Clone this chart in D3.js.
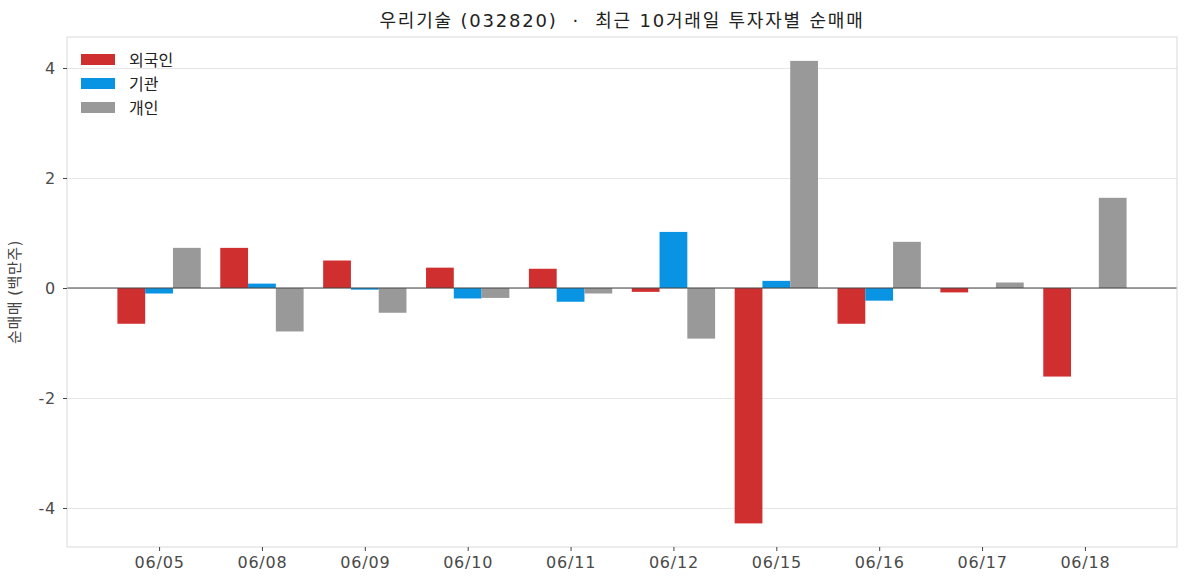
<!DOCTYPE html>
<html>
<head>
<meta charset="utf-8">
<script src="https://cdn.jsdelivr.net/npm/d3@7"></script>
<style>
  body { margin: 0; background: #fff; }
  svg text { font-family: "DejaVu Sans", "Noto Sans CJK KR", sans-serif; }
</style>
</head>
<body>
<svg id="chart" width="1187" height="587"></svg>
<script>
// 날짜 (최근 10거래일)
const dates = ["06/05", "06/08", "06/09", "06/10", "06/11", "06/12", "06/15", "06/16", "06/17", "06/18"];
// 투자자별 순매매 (백만주)
const foreign = [-0.65, 0.73, 0.50, 0.37, 0.35, -0.07, -4.28, -0.65, -0.08, -1.61];
const institution = [-0.10, 0.08, -0.03, -0.19, -0.25, 1.02, 0.13, -0.23, 0.00, 0.00];
const individual = [0.73, -0.79, -0.45, -0.18, -0.10, -0.92, 4.13, 0.84, 0.10, 1.64];
const yTicks = [-4, -2, 0, 2, 4];

const seriesNames = ["외국인", "기관", "개인"];
const colors = ["#d02f2f", "#0994e3", "#999999"];
const series = [foreign, institution, individual];

const svg = d3.select("#chart");
const margin = {left: 67, right: 10, top: 37, bottom: 40};
const width = 1187, height = 587;

const barW = 0.27;
const xScale = d3.scaleLinear()
    .domain([-0.895, 9.895])
    .range([margin.left, width - margin.right]);
const yScale = d3.scaleLinear()
    .domain([-4.709, 4.564])
    .range([height - margin.bottom, margin.top]);

// 그리드
svg.append("g")
    .selectAll("line")
    .data(yTicks)
    .join("line")
    .attr("x1", margin.left).attr("x2", width - margin.right)
    .attr("y1", d => Math.round(yScale(d)) + 0.5).attr("y2", d => Math.round(yScale(d)) + 0.5)
    .attr("stroke", "#e6e6e6")
    .attr("stroke-width", 1);

// 막대
series.forEach((vals, si) => {
    svg.append("g")
        .selectAll("rect")
        .data(vals)
        .join("rect")
        .attr("x", (d, i) => xScale(i + (si - 1) * barW - barW / 2))
        .attr("width", xScale(barW) - xScale(0))
        .attr("y", d => yScale(Math.max(0, d)))
        .attr("height", d => Math.abs(yScale(d) - yScale(0)))
        .attr("fill", colors[si]);
});

// 0 기준선
svg.append("line")
    .attr("x1", margin.left).attr("x2", width - margin.right)
    .attr("y1", yScale(0)).attr("y2", yScale(0))
    .attr("stroke", "#444")
    .attr("stroke-width", 1.2);

// 테두리
svg.append("rect")
    .attr("x", margin.left).attr("y", margin.top)
    .attr("width", width - margin.right - margin.left)
    .attr("height", height - margin.bottom - margin.top)
    .attr("fill", "none")
    .attr("stroke", "#d9d9d9")
    .attr("stroke-width", 1);

// 축
const xAxis = d3.axisBottom(xScale)
    .tickValues(d3.range(dates.length))
    .tickFormat(i => dates[i])
    .tickSize(4).tickPadding(6);
const yAxis = d3.axisLeft(yScale)
    .tickValues(yTicks)
    .tickFormat(d => String(d))
    .tickSize(4).tickPadding(7);

const gx = svg.append("g")
    .attr("transform", `translate(0, ${height - margin.bottom})`)
    .call(xAxis);
const gy = svg.append("g")
    .attr("transform", `translate(${margin.left}, 0)`)
    .call(yAxis);

[gx, gy].forEach(g => {
    g.select(".domain").remove();
    g.selectAll(".tick line").attr("stroke", "#444");
    g.selectAll(".tick text")
        .attr("fill", "#4a4a4a")
        .style("font-size", "16px")
        .style("letter-spacing", "0.8px");
});

// 축 제목
svg.append("text")
    .attr("transform", `translate(20, ${yScale(0) + 4}) rotate(-90)`)
    .attr("text-anchor", "middle")
    .attr("fill", "#444")
    .style("font-size", "15px")
    .style("letter-spacing", "0.5px")
    .text("순매매 (백만주)");

// 제목
svg.append("text")
    .attr("x", (margin.left + width - margin.right) / 2)
    .attr("y", 27)
    .attr("text-anchor", "middle")
    .attr("fill", "#222")
    .style("font-size", "18px")
    .style("letter-spacing", "1.8px")
    .style("white-space", "pre")
    .text("우리기술 (032820)  ·  최근 10거래일 투자자별 순매매");

// 범례
const legend = svg.append("g");
seriesNames.forEach((name, i) => {
    const row = legend.append("g").attr("transform", `translate(81, ${54 + i * 24})`);
    row.append("rect").attr("width", 34).attr("height", 11).attr("fill", colors[i]);
    row.append("text")
        .attr("x", 48).attr("y", 6)
        .attr("dy", "0.35em")
        .attr("fill", "#222")
        .style("font-size", "16px")
        .text(name);
});
</script>
</body>
</html>
